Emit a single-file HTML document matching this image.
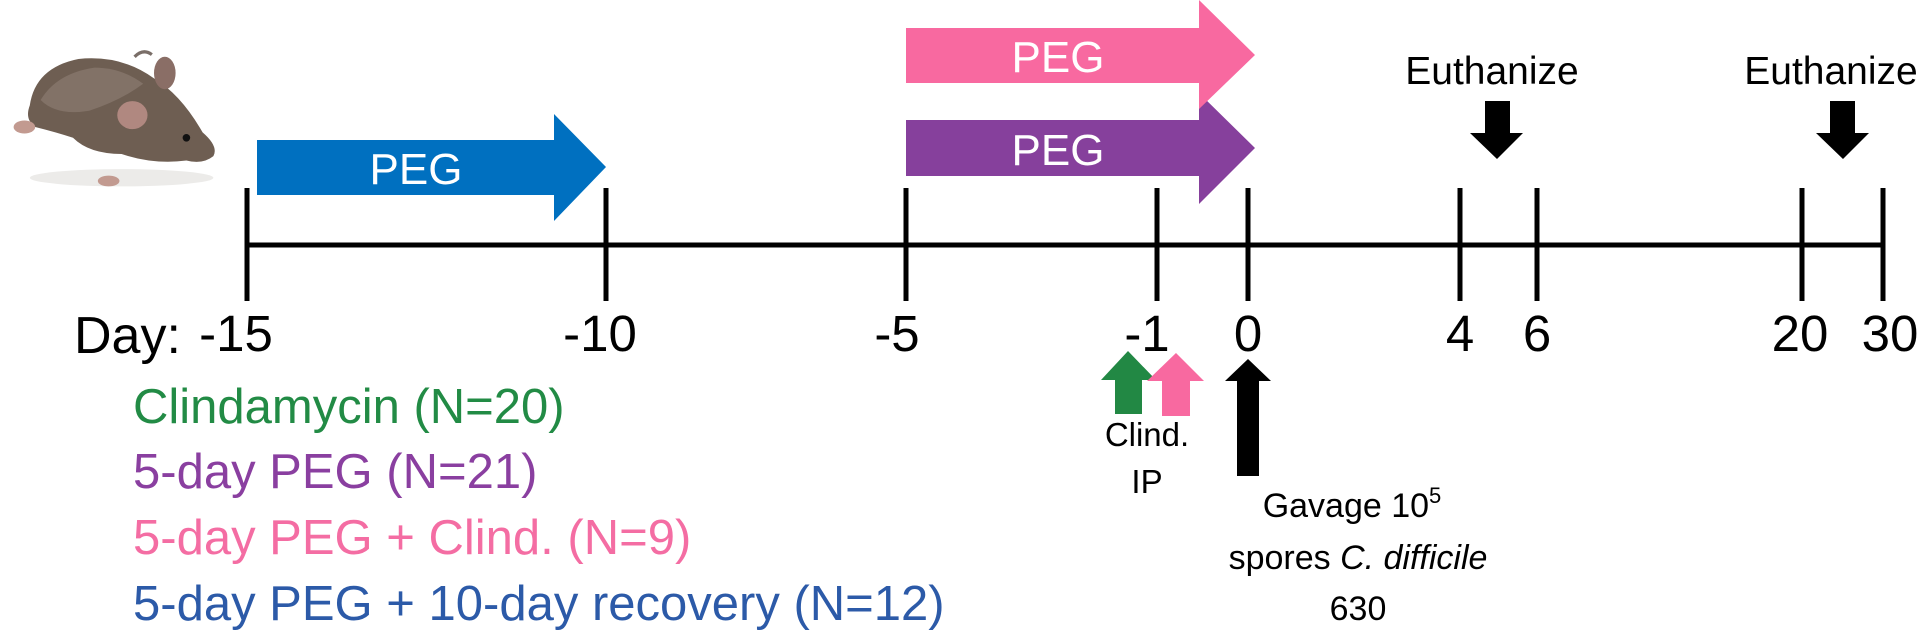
<!DOCTYPE html>
<html><head><meta charset="utf-8"><style>
html,body{margin:0;padding:0;background:#fff;width:1920px;height:633px;overflow:hidden}
svg{display:block}
text{font-family:"Liberation Sans",sans-serif}
</style></head><body>
<svg width="1920" height="633" viewBox="0 0 1920 633" xmlns="http://www.w3.org/2000/svg">
<!-- mouse -->
<g transform="translate(-8,-8) scale(1.08)">
<ellipse cx="120" cy="172" rx="85" ry="8" fill="#ecebe9"/>
<path d="M148 58 Q140 52 132 60" stroke="#7a6e68" stroke-width="3" fill="none"/>
<path d="M35 105 Q40 70 80 62 Q120 58 150 80 Q175 95 195 130 Q210 143 205 152 Q195 160 180 156 Q150 160 120 150 Q90 150 75 135 Q60 130 40 125 Q30 118 35 105Z" fill="#6e5e52"/>
<path d="M45 100 Q60 75 95 70 Q120 70 140 85 Q120 100 90 110 Q60 115 45 100Z" fill="#8a7a70" opacity="0.7"/>
<ellipse cx="160" cy="75" rx="10" ry="15" fill="#8a6e66"/>
<ellipse cx="130" cy="114" rx="14" ry="13" fill="#b08880"/>
<circle cx="180" cy="135" r="3.5" fill="#111"/>
<ellipse cx="30" cy="125" rx="10" ry="6" fill="#c29a90"/>
<ellipse cx="108" cy="175" rx="10" ry="5" fill="#c29a90"/>
</g>

<!-- blue arrow -->
<polygon points="257,140 554,140 554,114 606,167 554,221 554,195 257,195" fill="#0070C0"/>
<text x="416" y="184" font-size="44" fill="#fff" text-anchor="middle">PEG</text>
<!-- purple arrow -->
<polygon points="906,120 1199,120 1199,93 1255,148 1199,204 1199,176 906,176" fill="#86409C"/>
<text x="1058" y="165" font-size="44" fill="#fff" text-anchor="middle">PEG</text>
<!-- pink arrow -->
<polygon points="906,28 1199,28 1199,0 1255,55 1199,109 1199,83 906,83" fill="#F869A0"/>
<text x="1058" y="72" font-size="44" fill="#fff" text-anchor="middle">PEG</text>

<!-- axis -->
<line x1="245" y1="245" x2="1884" y2="245" stroke="#000" stroke-width="5"/>
<g stroke="#000" stroke-width="5">
<line x1="247" y1="188" x2="247" y2="301"/>
<line x1="606" y1="188" x2="606" y2="301"/>
<line x1="906" y1="188" x2="906" y2="301"/>
<line x1="1157" y1="188" x2="1157" y2="301"/>
<line x1="1248" y1="188" x2="1248" y2="301"/>
<line x1="1460" y1="188" x2="1460" y2="301"/>
<line x1="1537" y1="188" x2="1537" y2="301"/>
<line x1="1802" y1="188" x2="1802" y2="301"/>
<line x1="1883" y1="188" x2="1883" y2="301"/>
</g>

<text x="74" y="353" font-size="52" fill="#000">Day:</text>
<g font-size="51" fill="#000" text-anchor="middle">
<text x="236" y="351">-15</text>
<text x="600" y="351">-10</text>
<text x="897" y="351">-5</text>
<text x="1147" y="351">-1</text>
<text x="1248" y="351">0</text>
<text x="1460" y="351">4</text>
<text x="1537" y="351">6</text>
<text x="1800" y="351">20</text>
<text x="1890" y="351">30</text>
</g>

<!-- euthanize -->
<g font-size="39" fill="#000" text-anchor="middle">
<text x="1492" y="84">Euthanize</text>
<text x="1831" y="84">Euthanize</text>
</g>
<polygon points="1485,101 1510,101 1510,133 1523,133 1497,159 1470,133 1485,133" fill="#000"/>
<polygon points="1830,101 1855,101 1855,133 1869,133 1843,159 1816,133 1830,133" fill="#000"/>

<!-- clind arrows -->
<polygon points="1115,414 1142,414 1142,380 1156,380 1128,351 1101,380 1115,380" fill="#228844"/>
<polygon points="1162,416 1190,416 1190,381 1204,381 1176,353 1147,381 1162,381" fill="#F869A0"/>
<g font-size="33" fill="#000" text-anchor="middle">
<text x="1147" y="446">Clind.</text>
<text x="1147" y="493">IP</text>
</g>
<!-- gavage arrow -->
<polygon points="1237,476 1259,476 1259,381 1271,381 1248,359 1225,381 1237,381" fill="#000"/>
<g font-size="34" fill="#000" text-anchor="middle">
<text x="1352" y="517">Gavage 10<tspan font-size="22" dy="-14">5</tspan></text>
<text x="1358" y="569">spores <tspan font-style="italic">C. difficile</tspan></text>
<text x="1358" y="620">630</text>
</g>

<!-- legend -->
<g font-size="49">
<text x="133" y="423" fill="#228B45">Clindamycin (N=20)</text>
<text x="133" y="488" fill="#8A3FA0">5-day PEG (N=21)</text>
<text x="133" y="554" fill="#F46DA3">5-day PEG + Clind. (N=9)</text>
<text x="133" y="620" fill="#2C5AA8">5-day PEG + 10-day recovery (N=12)</text>
</g>
</svg>
</body></html>
